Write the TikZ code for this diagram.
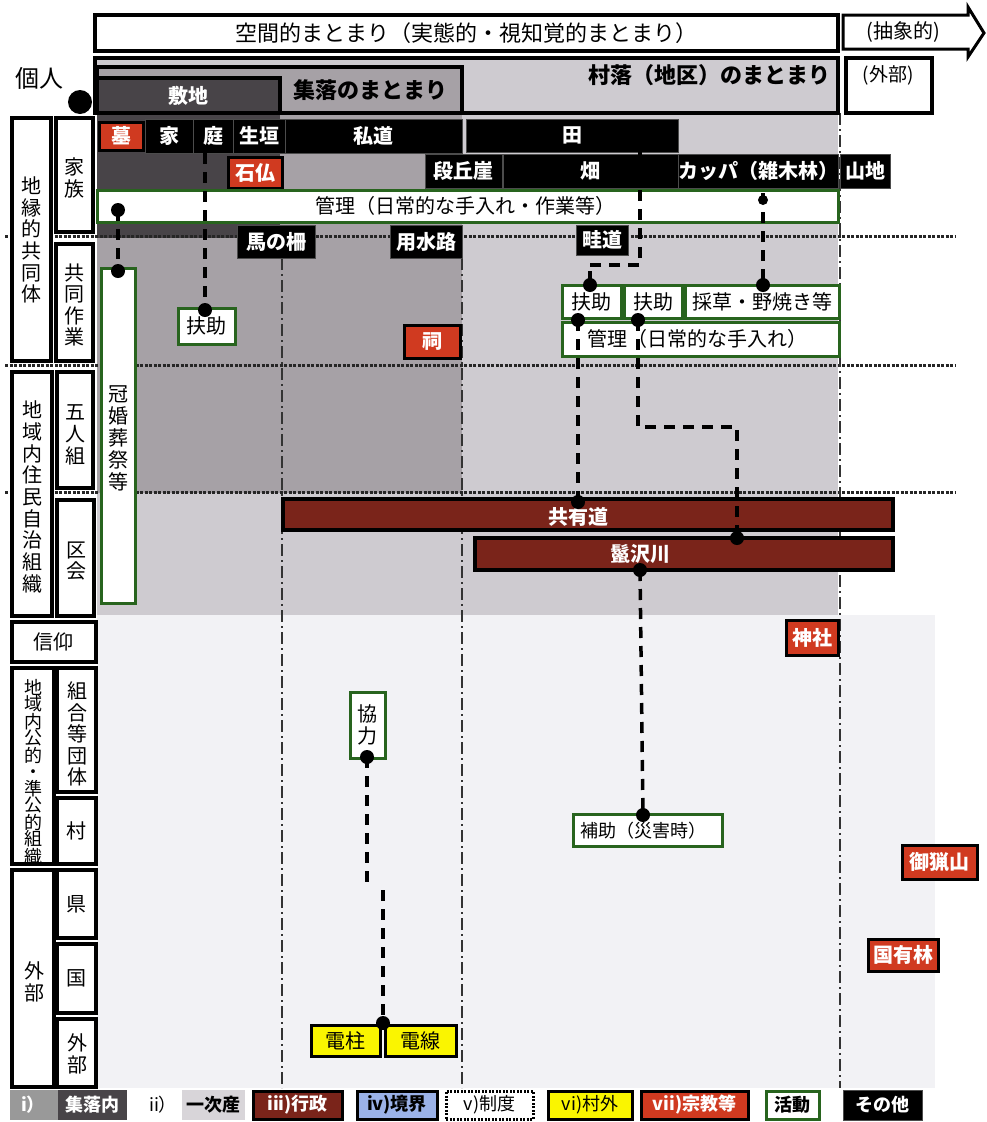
\documentclass[tikz,border=0pt]{standalone}
\usepackage{fontspec}
\setmainfont{Noto Sans CJK JP}
\definecolor{cLight}{RGB}{206,203,208}
\definecolor{cMid}{RGB}{166,161,166}
\definecolor{cDark}{RGB}{72,68,72}
\definecolor{cRed}{RGB}{208,58,32}
\definecolor{cDRed}{RGB}{122,36,26}
\definecolor{cGreen}{RGB}{40,100,30}
\definecolor{cYel}{RGB}{250,245,0}
\definecolor{cBlue}{RGB}{155,178,232}
\definecolor{cLow}{RGB}{242,242,245}
\newcommand\fs[1]{\fontsize{#1}{#1}\selectfont}
\newcommand\rb[7]{\node[#1, minimum width={(#5-#3)*1pt}, minimum height={(#6-#4)*1pt}] (#2) at ({(#3+#5)/2},{(#4+#6)/2}) {#7};}
\tikzset{
  base/.style={inner sep=0pt, outer sep=0pt, font=\fs{20}},
  blk/.style={base, fill=black, text=white, draw=black!70, line width=0.8pt, font=\fs{20}\bfseries},
  redb/.style={base, fill=cRed, text=white, draw=black, line width=3pt, font=\fs{20}\bfseries},
  drb/.style={base, fill=cDRed, text=white, draw=black, line width=3.5pt},
  actb/.style={base, fill=white, text=black, draw=cGreen, line width=3pt},
  yelb/.style={base, fill=cYel, text=black, draw=black, line width=3pt},
  lab/.style={base, fill=white, draw=black, line width=3.5pt},
  hdr/.style={base, draw=black, line width=4pt},
  vtxt/.style={inner sep=0pt, align=center},
  conn/.style={line width=3.5pt, dash pattern=on 11pt off 8pt},
  rowsep/.style={line width=3pt, black!85, dash pattern=on 3pt off 1.5pt},
  colsep/.style={line width=1.8pt, black!80, dash pattern=on 12pt off 4pt on 2pt off 4pt},
  dotc/.style={fill=black}
}
\begin{document}
\begin{tikzpicture}[x=1pt,y=-1pt]
\useasboundingbox (0,0) rectangle (987,1122);
% ---------- background regions
\fill[cLow] (97,615) rectangle (935,1088);
\fill[cLight] (97,113) rectangle (838,615);
\fill[cMid] (97,113) rectangle (462,493);
\fill[cDark] (97,113) rectangle (280,238);
% ---------- separators
\draw[rowsep] (5,236) -- (955,236);
\draw[rowsep] (5,365) -- (955,365);
\draw[rowsep] (5,492) -- (955,492);
\draw[colsep] (282,258) -- (282,1088);
\draw[colsep] (462,258) -- (462,1088);
\draw[colsep] (840,113) -- (840,1088);
% ---------- header
\rb{hdr, fill=white, font=\fs{22}}{kukan}{95}{15}{838}{51}{空間的まとまり（実態的・視知覚的まとまり）}
\draw[line width=3pt, fill=white] (843,15) -- (968,15) -- (968,7) -- (984,33) -- (968,57) -- (968,49) -- (843,49) -- cycle;
\node[base, font=\fs{20}] (chusho) at (903,32) {(抽象的)};
\rb{hdr, fill=cLight}{sonraku}{95}{58}{838}{113}{}
\node[base, font=\fs{22}\bfseries, anchor=east] (sonrakut) at (830,75) {村落（地区）のまとまり};
\rb{hdr, fill=white}{gaibu0}{846}{58}{932}{113}{}
\node[base, font=\fs{19}] (gaibu0t) at (888,75) {(外部)};
\rb{hdr, fill=cMid, line width=3.5pt}{shuraku}{97}{67}{462}{113}{}
\node[base, font=\fs{22}\bfseries] (shurakut) at (370,90) {集落のまとまり};
\rb{hdr, fill=cDark, text=white, line width=3.5pt, font=\fs{20}\bfseries}{shikichi}{97}{78}{280}{113}{敷地}
\node[base, font=\fs{24}] (kojin) at (40,78) {個人};
\fill (80,102) circle (12);
% ---------- left labels
\rb{lab}{chien}{12}{118}{51}{361}{}
\node[vtxt, font=\fontsize{20}{21.7}\selectfont] at (31,240) {地\\縁\\的\\共\\同\\体};
\rb{lab}{kazoku}{56}{118}{93}{232}{}
\node[vtxt, font=\fontsize{20}{21.7}\selectfont] at (74,178) {家\\族};
\rb{lab}{kyodo}{56}{244}{93}{361}{}
\node[vtxt, font=\fontsize{20}{21.5}\selectfont] at (74,305) {共\\同\\作\\業};
\rb{lab}{jichi}{12}{372}{52}{616}{}
\node[vtxt, font=\fontsize{20}{21.7}\selectfont] at (32,497) {地\\域\\内\\住\\民\\自\\治\\組\\織};
\rb{lab}{goningumi}{57}{372}{93}{488}{}
\node[vtxt, font=\fontsize{20}{21.7}\selectfont] at (75,435) {五\\人\\組};
\rb{lab}{kukai}{57}{500}{94}{616}{}
\node[vtxt, font=\fontsize{20}{21.7}\selectfont] at (76,561) {区\\会};
\rb{lab}{shinko}{12}{622}{96}{662}{信仰}
\rb{lab}{koteki}{12}{668}{54}{864}{}
\node[vtxt, font=\fontsize{18}{16.4}\selectfont] at (33,772) {地\\域\\内\\公\\的\\・\\準\\公\\的\\組\\織};
\rb{lab}{kumiai}{57}{668}{96}{792}{}
\node[vtxt, font=\fontsize{20}{21.6}\selectfont] at (77,734) {組\\合\\等\\団\\体};
\rb{lab}{mura}{57}{798}{96}{864}{村}
\rb{lab}{gaibuL}{12}{870}{54}{1087}{}
\node[vtxt, font=\fontsize{20}{21.7}\selectfont] at (34,982) {外\\部};
\rb{lab}{ken}{57}{870}{96}{938}{県}
\rb{lab}{kuni}{57}{944}{96}{1013}{国}
\rb{lab}{gaibuR}{57}{1019}{96}{1087}{}
\node[vtxt, font=\fontsize{20}{21.7}\selectfont] at (77,1054) {外\\部};
% ---------- row 1 labels
\rb{redb}{haka}{99}{122}{143}{150}{墓}
\rb{blk}{ie}{145}{119}{193}{153}{家}
\rb{blk}{niwa}{193}{119}{233}{153}{庭}
\rb{blk}{ikegaki}{233}{119}{285}{153}{生垣}
\rb{blk}{shido}{285}{119}{462}{153}{私道}
\rb{blk}{ta}{466}{119}{678}{152}{田}
% ---------- row 2 labels
\rb{redb}{sekibutsu}{228}{157}{282}{188}{石仏}
\rb{blk}{dankyu}{425}{154}{502}{188}{段丘崖}
\rb{blk}{hatake}{503}{154}{678}{188}{畑}
\rb{blk}{kappa}{678}{154}{838}{188}{カッパ（雑木林）}
\rb{blk}{sanchi}{840}{154}{890}{188}{山地}
% ---------- kanri
\rb{actb}{kanri}{97}{190}{838}{222}{}
\node[base, font=\fs{20}] (kanrit) at (465,206) {管理（日常的な手入れ・作業等）};
\rb{blk}{umanosaku}{237}{225}{315}{258}{馬の柵}
\rb{blk}{yosuiro}{390}{225}{462}{258}{用水路}
\rb{blk}{azemichi}{576}{225}{628}{255}{畦道}
% ---------- activity boxes
\rb{actb}{fujoL}{178}{308}{235}{344}{扶助}
\rb{redb}{hokora}{404}{325}{460}{358}{祠}
\rb{actb}{kankon}{101}{268}{135}{603}{}
\node[vtxt, font=\fontsize{20}{22}\selectfont] at (118,438) {冠\\婚\\葬\\祭\\等};
\rb{actb}{fujo1}{562}{285}{621}{318}{扶助}
\rb{actb}{fujo2}{624}{285}{682}{318}{扶助}
\rb{actb}{saiso}{685}{285}{839}{318}{採草・野焼き等}
\rb{actb}{kanri2}{562}{322}{839}{356}{}
\node[base, font=\fs{20}] (kanri2t) at (697,339) {管理（日常的な手入れ）};
% ---------- roads / rivers
\rb{drb}{kyoyudo}{283}{499}{893}{530}{}
\node[base, text=white, font=\fs{20}\bfseries] (kyoyudot) at (578,517) {共有道};
\rb{drb}{higesawa}{475}{538}{893}{570}{}
\node[base, text=white, font=\fs{20}\bfseries] (higesawat) at (640,554) {鬣沢川};
% ---------- lower
\rb{redb}{jinja}{786}{620}{838}{655}{神社}
\rb{actb}{kyoryoku}{350}{692}{385}{758}{}
\node[vtxt, font=\fontsize{20}{22}\selectfont] at (367,725) {協\\力};
\rb{actb}{hojo}{573}{814}{722}{846}{}
\node[base, font=\fs{18}] (hojot) at (643,831) {補助（災害時）};
\rb{redb}{goryo}{902}{845}{977}{879}{御猟山}
\rb{redb}{kokuyu}{868}{939}{938}{971}{国有林}
\rb{yelb}{denchu}{311}{1025}{380}{1056}{電柱}
\rb{yelb}{densen}{385}{1025}{456}{1056}{電線}
% ---------- connectors
\coordinate (c1a) at (205,153); \coordinate (c1b) at (205,310);
\draw[conn] (c1a) -- (c1b);
\coordinate (c2a) at (118,210); \coordinate (c2b) at (118,271);
\draw[conn] (c2a) -- (c2b);
\coordinate (c3a) at (640,152); \coordinate (c3b) at (640,265); \coordinate (c3c) at (590,265); \coordinate (c3d) at (590,285);
\draw[conn] (c3a) -- (c3b) -- (c3c);
\draw[line width=3.5pt] (c3d) -- ++(0,-14);
\coordinate (c4a) at (763,193); \coordinate (c4b) at (763,285);
\draw[conn] (c4a) -- (c4b);
\coordinate (c5a) at (578,320); \coordinate (c5b) at (578,502);
\draw[conn] (c5a) -- (c5b);
\coordinate (c6a) at (638,320); \coordinate (c6b) at (638,427); \coordinate (c6c) at (737,427); \coordinate (c6d) at (737,538);
\draw[conn] (c6a) -- (c6b) -- (c6c) -- (c6d);
\coordinate (c7a) at (640,570); \coordinate (c7b) at (643,815);
\draw[conn] (c7a) -- (c7b);
\coordinate (c8a) at (367,757); \coordinate (c8b) at (367,890); \coordinate (c8c) at (383,890); \coordinate (c8d) at (383,1023);
\draw[conn] (c8a) -- (c8b);
\draw[conn] (c8c) -- (c8d);
\foreach \p in {c1b,c2a,c2b,c3d,c4b,c5a,c5b,c6a,c6d,c7a,c7b,c8a,c8d}
  \fill[dotc] (\p) circle (7);
\fill (205,154) -- (199,150) -- (211,150) -- cycle;
\fill (763,200) circle (5);
% ---------- legend
\fill[black!40] (10,1090) rectangle (58,1120);
\node[base, text=white, font=\fs{18}\bfseries] (lg1a) at (33,1105) {i）};
\rb{base, fill=cDark, text=white, font=\fs{18}\bfseries}{lg1}{58}{1090}{127}{1120}{集落内}
\node[base, font=\fs{18}] (lg2a) at (163,1105) {ii）};
\rb{base, fill=cLight!80, font=\fs{18}\bfseries}{lg2}{182}{1090}{245}{1120}{一次産}
\rb{base, fill=cDRed, text=white, draw=black, line width=3pt, font=\fs{18}\bfseries}{lg3}{253}{1091}{342}{1119}{iii)行政}
\rb{base, fill=cBlue, text=black, draw=black, line width=3pt, font=\fs{18}\bfseries}{lg4}{357}{1091}{437}{1119}{iv)境界}
\rb{base, fill=white, draw=black, line width=3pt, dash pattern=on 2pt off 1.5pt, font=\fs{18}}{lg5}{446}{1091}{533}{1119}{v)制度}
\rb{base, fill=cYel, draw=black, line width=3pt, font=\fs{18}}{lg6}{548}{1091}{632}{1119}{vi)村外}
\rb{base, fill=cRed, text=white, draw=black, line width=3pt, font=\fs{18}\bfseries}{lg7}{641}{1091}{748}{1119}{vii)宗教等}
\rb{actb, font=\fs{18}\bfseries}{lg8}{766}{1091}{819}{1119}{活動}
\rb{blk, font=\fs{18}\bfseries}{lg9}{843}{1090}{922}{1120}{その他}
\end{tikzpicture}
\end{document}
